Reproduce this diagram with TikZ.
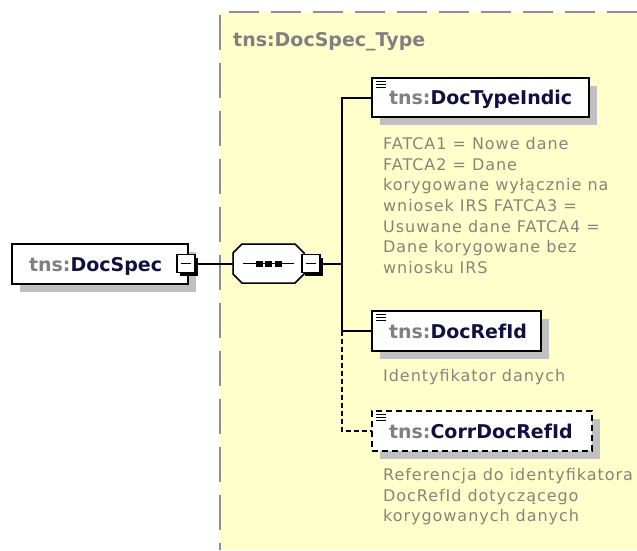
\documentclass[tikz,border=0pt]{standalone}
\usepackage{fontspec}
\setmainfont{DejaVu Sans}
\newfontfamily\descfont[LetterSpace=6]{DejaVu Sans}
\usetikzlibrary{calc}
\usetikzlibrary{shadows}
\definecolor{typeYellow}{RGB}{255,255,204}
\definecolor{borderGray}{RGB}{144,144,144}
\definecolor{shadowGray}{RGB}{192,192,192}
\definecolor{prefixGray}{RGB}{128,128,128}
\definecolor{nameNavy}{RGB}{16,16,64}
\definecolor{noteGray}{RGB}{140,130,120}
\newcommand{\tns}[1]{{\color{prefixGray}tns:}{\color{nameNavy}#1}}

\begin{document}
\begin{tikzpicture} [x=1pt,y=-1pt,
  elem/.style={draw, line width=2pt, fill=white, anchor=west, outer sep=0pt, align=left, text width=#1, inner xsep=17pt, inner ysep=0pt, minimum height=40pt, text height=14pt, text depth=0pt, font=\fontsize{19}{22}\selectfont\bfseries, drop shadow={shadow xshift=8pt, shadow yshift=-8pt, fill=shadowGray, opacity=1}},
  toggle/.style={draw, line width=1.2pt, fill=white, outer sep=0pt, minimum size=18pt, inner sep=0pt, drop shadow={shadow xshift=3pt, shadow yshift=-3pt, fill=black, opacity=1}},
  note/.style={anchor=north west, inner sep=0pt, align=left, text=noteGray, font=\descfont\fontsize{16}{20.7}\selectfont},
  link/.style={line width=2pt}]
\useasboundingbox (0,0) rectangle (637,550);

\fill[typeYellow] (220,12) rectangle (637,550);
\draw[borderGray, line width=2pt, dash pattern=on 30pt off 12pt] (229,12) -- (637,12);
\draw[borderGray, line width=2pt, dash pattern=on 35pt off 13pt] (220,15) -- (220,550);
\node[anchor=base west, inner sep=0pt, text=prefixGray, font=\fontsize{19}{22}\selectfont\bfseries] (typename) at (233,46) {tns:DocSpec\_Type};

\node[elem=142pt] (docspec) at (12,264) {\tns{DocSpec}};
\node[toggle] (docspecminus) at (186,263.5) {\rule{10pt}{1.5pt}};

\node[minimum width=71pt, minimum height=39pt, inner sep=0pt, outer sep=0pt] (seq) at (268.5,263.5) {};
\foreach \off/\col/\edge in {8/shadowGray/shadowGray, 0/white/black}
  \filldraw[fill=\col, draw=\edge, line width=1.5pt, shift={(\off,\off)}]
    ($(seq.north west)+(9,0)$) -- ($(seq.north east)+(-9,0)$) -- ($(seq.north east)+(0,9)$) -- ($(seq.south east)+(0,-9)$)
    -- ($(seq.south east)+(-9,0)$) -- ($(seq.south west)+(9,0)$) -- ($(seq.south west)+(0,-9)$) -- ($(seq.north west)+(0,9)$) -- cycle;
\draw[line width=1.5pt] ($(seq.west)+(10,0)$) -- ($(seq.east)+(-10,0)$);
\foreach \dx in {-9.5,0,9.5} \fill ($(seq.center)+(\dx,0)$) +(-3.5,-3) rectangle +(3.5,3);
\node[toggle] (seqminus) at (311,263.5) {\rule{10pt}{1.5pt}};
\coordinate (fork) at (342,263.5);

\node[elem=183pt, minimum height=39pt] (indic) at (372,97.5) {\tns{DocTypeIndic}};
\node[elem=135pt] (refid) at (372,331) {\tns{DocRefId}};
\node[elem=186pt, dash pattern=on 6pt off 4pt] (corr) at (372,431) {\tns{CorrDocRefId}};

\foreach \n in {indic,refid,corr}
  \foreach \dy in {3,6,9} \draw[line width=1pt] ($(\n.north west)+(4,\dy)$) --++(10,0);

\draw[link] (docspecminus) -- (seq);
\draw[link] (seqminus) -- (fork);
\draw[link] (fork) |- (indic.west);
\draw[link] (fork) |- (refid.west);
\draw[link, dash pattern=on 5pt off 3pt] (refid.west -| fork) |- (corr.west);

\node[note] (indicnote) at (383,137) {FATCA1 = Nowe dane\\FATCA2 = Dane\\korygowane wyłącznie na\\wniosek IRS FATCA3 =\\Usuwane dane FATCA4 =\\Dane korygowane bez\\wniosku IRS};
\node[note] (refidnote) at (383,369) {Identyfikator danych};
\node[note] (corrnote) at (383,468) {Referencja do identyfikatora\\DocRefId dotyczącego\\korygowanych danych};
\end{tikzpicture}
\end{document}
